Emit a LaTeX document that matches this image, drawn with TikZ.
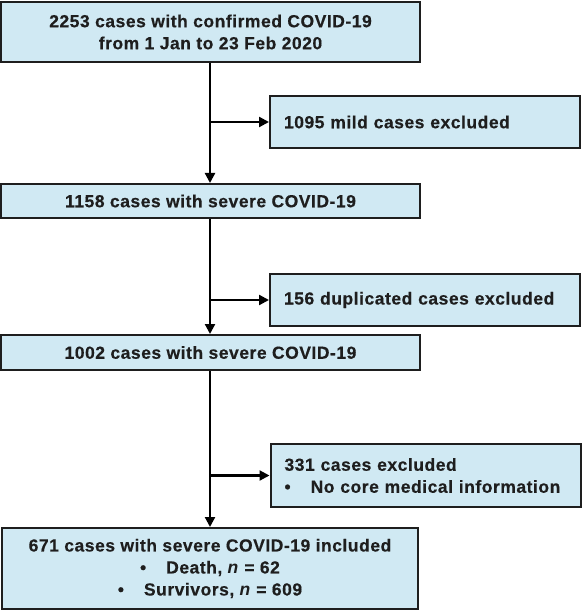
\documentclass[tikz,border=0pt]{standalone}
\usepackage{fontspec}
\setmainfont{Liberation Sans}
\newfontfamily\flowfont[LetterSpace=3, BoldFeatures={FakeBold=0.4}]{Liberation Sans}
\usetikzlibrary{arrows.meta}

\definecolor{boxblue}{RGB}{208,233,243}
\definecolor{edge}{RGB}{30,30,30}

\tikzset{
  mainbox/.style={draw=edge, line width=2pt, fill=boxblue, minimum width=419pt,
    align=center, inner sep=0pt, font=\flowfont\fontsize{17.5}{22}\selectfont\bfseries, text=edge},
  sidebox/.style={draw=edge, line width=2pt, fill=boxblue, minimum width=310pt,
    text width=282pt, align=left, inner sep=0pt, font=\flowfont\fontsize{17.5}{22}\selectfont\bfseries, text=edge},
  flow/.style={line width=2.2pt, draw=black, -{Triangle[length=10pt,width=10pt]}}
}

\begin{document}
\begin{tikzpicture}[x=1pt,y=-1pt]
    \useasboundingbox (0,0) rectangle (583,612);

    \draw(210.5,32) node[mainbox, minimum height=60pt] (total)
    {2253 cases with confirmed COVID-19\\from 1 Jan to 23 Feb 2020};
    \draw(210.5,201) node[mainbox, minimum height=34pt] (severe)
    {1158 cases with severe COVID-19};
    \draw(210.5,352.5) node[mainbox, minimum height=35pt] (dedup)
    {1002 cases with severe COVID-19};
    \draw(210,568.5) node[mainbox, minimum height=81pt, minimum width=416pt] (final)
    {671 cases with severe COVID-19 included\\
     \textbullet\hspace{20pt}Death, \textit{n} = 62\\
     \textbullet\hspace{20pt}Survivors, \textit{n} = 609};

    \draw(425,122) node[sidebox, minimum height=52pt] (mild)
    {1095 mild cases excluded};
    \draw(425,300) node[sidebox, minimum height=52pt] (dup)
    {156 duplicated cases excluded};
    \draw(425.5,475.5) node[sidebox, minimum height=63pt] (nocore)
    {331 cases excluded\\
     \textbullet\hspace{20pt}No core medical information};

    % main flow down the left
    \draw[flow] (total.south -| 210,0) -- (severe.north -| 210,0);
    \draw[flow] (severe.south -| 210,0) -- (dedup.north -| 210,0);
    \draw[flow] (dedup.south -| 210,0) -- (final.north -| 210,0);

    % exclusions to the right
    \draw[flow] (mild.west -| 210,0) -- (mild.west);
    \draw[flow] (dup.west -| 210,0) -- (dup.west);
    \draw[flow] (nocore.west -| 210,0) -- (nocore.west);

\end{tikzpicture}
\end{document}
